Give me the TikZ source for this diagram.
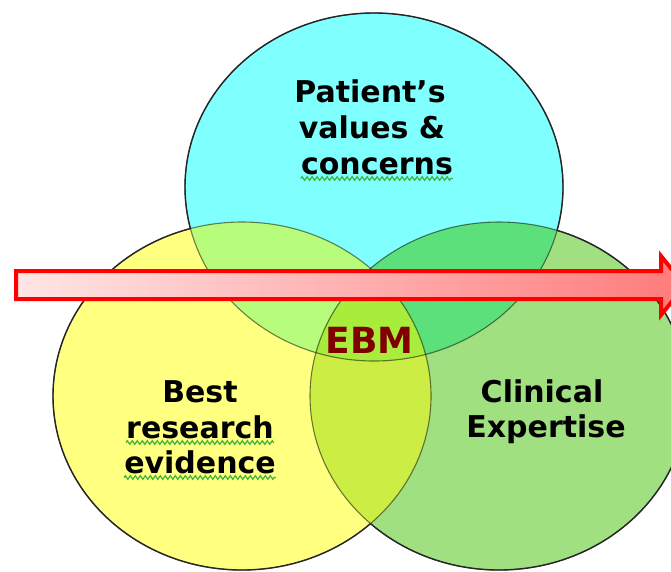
\documentclass[tikz,border=0pt]{standalone}
\usepackage{fontspec}
\setmainfont{DejaVu Sans}
\usetikzlibrary{decorations.pathmorphing}
\definecolor{cyanA}{HTML}{80FFFF}
\definecolor{yellowA}{HTML}{FFFF80}
\definecolor{greenA}{HTML}{A0E080}
\definecolor{cyY}{HTML}{B8FC7C}
\definecolor{cyG}{HTML}{5CE07C}
\definecolor{yG}{HTML}{CCEE44}
\definecolor{allC}{HTML}{A8EC3C}
\definecolor{ebmred}{HTML}{800000}
\definecolor{squig}{HTML}{3CB43C}
\tikzset{
  lbl/.style={font=\fontsize{30}{36}\selectfont\bfseries, inner sep=0pt, anchor=base, text=black},
  ebmlbl/.style={font=\fontsize{36}{42}\selectfont\bfseries, inner sep=0pt, anchor=base, text=ebmred},
  squiggle/.style={squig, line width=1.2pt, decorate, decoration={zigzag, segment length=5pt, amplitude=1.8pt}},
  innerline/.style={black, line width=1.1pt, opacity=0.5},
  outerline/.style={black!85, line width=1.4pt},
  arrowbody/.style={red, line width=4pt, miter limit=10, left color=red!10, right color=red!52}
}
\newcommand{\ellC}{(374,187) ellipse [x radius=189pt, y radius=174pt]}
\newcommand{\ellY}{(242,396) ellipse [x radius=189pt, y radius=174pt]}
\newcommand{\ellG}{(499,396) ellipse [x radius=189pt, y radius=174pt]}
\newcommand{\bigbox}{(-50,-50) rectangle (750,650)}
\begin{document}
\begin{tikzpicture}[x=1pt, y=-1pt]
\useasboundingbox (0,0) rectangle (671,571);
\begin{scope}
\clip (0,0) rectangle (671,571);
% base fills
\fill[cyanA] \ellC;
\fill[yellowA] \ellY;
\fill[greenA] \ellG;
% pairwise overlaps
\begin{scope}\clip \ellC; \fill[cyY] \ellY; \end{scope}
\begin{scope}\clip \ellC; \fill[cyG] \ellG; \end{scope}
\begin{scope}\clip \ellY; \fill[yG] \ellG; \end{scope}
\begin{scope}\clip \ellC; \clip \ellY; \fill[allC] \ellG; \end{scope}
% inner boundaries
\draw[innerline] \ellC;
\draw[innerline] \ellY;
\draw[innerline] \ellG;
% outer boundaries
\begin{scope}[even odd rule]
  \clip \bigbox \ellY;
  \begin{scope}[even odd rule]
    \clip \bigbox \ellG;
    \draw[outerline] \ellC;
  \end{scope}
\end{scope}
\begin{scope}[even odd rule]
  \clip \bigbox \ellC;
  \begin{scope}[even odd rule]
    \clip \bigbox \ellG;
    \draw[outerline] \ellY;
  \end{scope}
\end{scope}
\begin{scope}[even odd rule]
  \clip \bigbox \ellC;
  \begin{scope}[even odd rule]
    \clip \bigbox \ellY;
    \draw[outerline] \ellG;
  \end{scope}
\end{scope}
% texts
\node[lbl] (p1) at (370,102) {Patient’s};
\node[lbl] (p2) at (372,138) {values \&};
\node[lbl] (p3) at (377,174) {concerns};
\node[lbl] (b1) at (200,402) {Best};
\node[lbl] (b2) at (200,438) {research};
\node[lbl] (b3) at (200,473) {evidence};
\node[lbl] (c1) at (542,402) {Clinical};
\node[lbl] (c2) at (546,437) {Expertise};
% arrow
\coordinate (a1) at (16,271);
\coordinate (a2) at (661,271);
\coordinate (a3) at (661,256);
\coordinate (a4) at (685,285.5);
\coordinate (a5) at (661,315);
\coordinate (a6) at (661,299);
\coordinate (a7) at (16,299);
\shadedraw[arrowbody] (a1) -- (a2) -- (a3) -- (a4) -- (a5) -- (a6) -- (a7) -- cycle;
\node[ebmlbl] (ebm) at (369.5,353) {EBM};
% spell-check squiggles
\draw[squiggle] ([yshift=-4.5pt]p3.base west) -- ([yshift=-4.5pt]p3.base east);
\draw[squiggle] ([yshift=-4.5pt]b2.base west) -- ([yshift=-4.5pt]b2.base east);
\draw[squiggle] ([yshift=-4.5pt]b3.base west) -- ([yshift=-4.5pt]b3.base east);
\end{scope}
\end{tikzpicture}
\end{document}
